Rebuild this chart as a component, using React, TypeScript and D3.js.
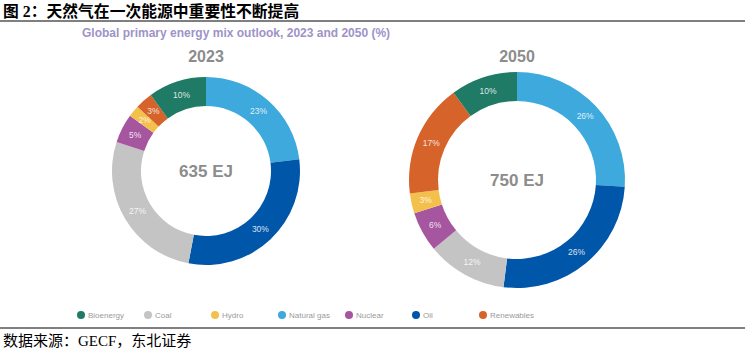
import React from 'react';
import { pie, arc, scaleOrdinal, scalePoint } from 'd3';

// slice order, clockwise from 12 o'clock
const sliceOrder = ['Natural gas', 'Oil', 'Coal', 'Nuclear', 'Hydro', 'Renewables', 'Bioenergy'];
const values2023 = [23, 30, 27, 5, 2, 3, 10];
const values2050 = [26, 26, 12, 6, 3, 17, 10];
const totals = ['635 EJ', '750 EJ'];
const years = ['2023', '2050'];

const legendNames = ['Bioenergy', 'Coal', 'Hydro', 'Natural gas', 'Nuclear', 'Oil', 'Renewables'];
const legendColors = ['#1f7a66', '#c5c4c4', '#f4c04c', '#3ea9dd', '#a6559f', '#0057a9', '#d5632a'];

const color = scaleOrdinal<string, string>().domain(legendNames).range(legendColors);

type Donut = { values: number[]; cx: number; cy: number; r: number; ir: number; total: string; year: string };

const donuts: Donut[] = [
  { values: values2023, cx: 206, cy: 171, r: 94, ir: 65, total: totals[0], year: years[0] },
  { values: values2050, cx: 517, cy: 180, r: 108, ir: 79, total: totals[1], year: years[1] },
];

const DonutChart = ({ d }: { d: Donut }) => {
  const rows = sliceOrder.map((name, i) => ({ name, value: d.values[i] }));
  const slices = pie<{ name: string; value: number }>()
    .value((v) => v.value)
    .sort(null)(rows);
  const shape = arc<any>().innerRadius(d.ir).outerRadius(d.r);
  const mid = arc<any>().innerRadius((d.ir + d.r) / 2).outerRadius((d.ir + d.r) / 2);

  return (
    <g transform={`translate(${d.cx},${d.cy})`}>
      {slices.map((s) => (
        <path key={s.data.name} d={shape(s) || ''} fill={color(s.data.name)} />
      ))}
      {slices.map((s) => {
        const [x, y] = mid.centroid(s);
        return (
          <text
            key={'t' + s.data.name}
            x={x}
            y={y}
            textAnchor='middle'
            dominantBaseline='central'
            fontSize={8.5}
            fill='#ffffff'
            fillOpacity={0.85}
          >
            {s.data.value}%
          </text>
        );
      })}
      <text
        x={0}
        y={0}
        textAnchor='middle'
        dominantBaseline='central'
        fontSize={17}
        fontWeight='bold'
        fill='#8c8c8c'
      >
        {d.total}
      </text>
    </g>
  );
};

export default function App() {
  const legendX = scalePoint<string>().domain(legendNames).range([81, 483]);

  return (
    <svg
      width={745}
      height={353}
      style={{ position: 'absolute', left: 0, top: 0, background: '#fff' }}
      fontFamily="'Liberation Sans', Arial, sans-serif"
    >
      <text
        x={3}
        y={17}
        fontSize={15.8}
        fontWeight='bold'
        fontFamily="'Liberation Serif', 'Noto Sans CJK SC', serif"
        fill='#000'
      >
        图 2：天然气在一次能源中重要性不断提高
      </text>
      <line x1={0} x2={745} y1={21} y2={21} stroke='#000' strokeWidth={1.2} />
      <text x={82} y={37} fontSize={12} fontWeight='bold' fill='#9e93c8'>
        Global primary energy mix outlook, 2023 and 2050 (%)
      </text>

      {donuts.map((d) => (
        <text
          key={'y' + d.year}
          x={d.cx}
          y={62}
          textAnchor='middle'
          fontSize={16}
          fontWeight='bold'
          fill='#8c8c8c'
        >
          {d.year}
        </text>
      ))}

      {donuts.map((d) => (
        <DonutChart key={d.year} d={d} />
      ))}

      {legendNames.map((name) => (
        <g key={name} transform={`translate(${legendX(name)},315)`}>
          <circle r={4} fill={color(name)} />
          <text x={7} y={0} dominantBaseline='central' fontSize={8} fill='#9a9a9a'>
            {name}
          </text>
        </g>
      ))}

      <line x1={0} x2={745} y1={328} y2={328} stroke='#000' strokeWidth={1.2} />
      <text
        x={3}
        y={346}
        fontSize={15}
        fontFamily="'Liberation Serif', 'Noto Sans CJK SC', serif"
        fill='#000'
      >
        数据来源：GECF，东北证券
      </text>
    </svg>
  );
}
